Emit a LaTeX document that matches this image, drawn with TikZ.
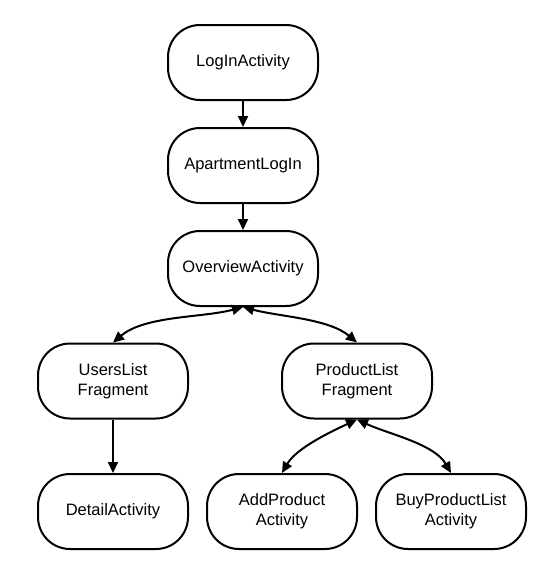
\documentclass[tikz,border=0pt]{standalone}
\usepackage{fontspec}
\setmainfont{Liberation Sans}
\usetikzlibrary{arrows.meta}
\begin{document}
\begin{tikzpicture}[x=1pt,y=-1pt,
  box/.style={draw=black, line width=2pt, fill=white, rounded corners=32pt,
    minimum width=150pt, minimum height=75pt, align=center,
    font=\fontsize{16.5}{20}\selectfont, inner sep=0pt},
  tip/.style={Triangle[length=11pt,width=10pt]},
  conn/.style={line width=2pt, -{Triangle[length=11pt,width=10pt]}},
  bconn/.style={line width=2pt, {Triangle[length=11pt,width=10pt]}-{Triangle[length=11pt,width=10pt]}}]
\useasboundingbox (0,0) rectangle (549,568);
\node[box] (login) at (243,62.5) {LogInActivity};
\node[box] (apt) at (243,165.5) {ApartmentLogIn};
\node[box] (ov) at (243,268.5) {OverviewActivity};
\node[box] (ul) at (113,381) {UsersList\\Fragment};
\node[box] (pl) at (357,381) {ProductList\\Fragment};
\node[box] (det) at (113,511.5) {DetailActivity};
\node[box] (add) at (282,511.5) {AddProduct\\Activity};
\node[box] (buy) at (451,511.5) {BuyProductList\\Activity};
\draw[conn] (login) -- (apt);
\draw[conn] (apt) -- (ov);
\draw[conn] (ul) -- (det);
\draw[bconn] (ov.south) to[out=195,in=40,looseness=0.8] (ul.north);
\draw[bconn] (ov.south) to[out=-15,in=140,looseness=0.8] (pl.north);
\draw[bconn] (pl.south) to[out=205,in=60,looseness=0.8] (add.north);
\draw[bconn] (pl.south) to[out=-25,in=120,looseness=0.8] (buy.north);
\end{tikzpicture}
\end{document}
